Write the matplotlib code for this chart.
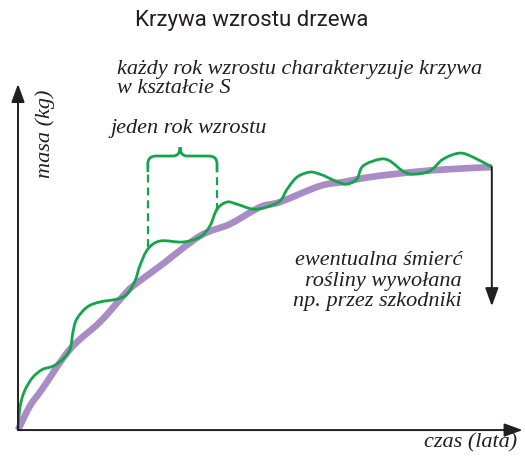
import matplotlib
matplotlib.use("Agg")
import matplotlib.pyplot as plt
from matplotlib.path import Path
from matplotlib.patches import PathPatch

# growth curve (time in years, mass in arbitrary units)
trend_t = [0.0, 0.25, 0.51, 1.10, 1.73, 2.22, 2.43, 3.00, 3.84, 4.47,
           5.11, 5.53, 6.37, 6.86, 7.43, 8.33, 9.11, 10.0]
trend_m = [0.0, 0.91, 1.56, 3.08, 4.11, 5.10, 5.48, 6.24, 7.38, 7.83,
           8.48, 8.67, 9.28, 9.43, 9.62, 9.81, 9.92, 10.0]

# yearly growth (wavy line)
year_t = [0.0, 0.04, 0.13, 0.30, 0.51, 0.74, 0.95, 1.10, 1.16, 1.24, 1.46, 1.73,
          2.09, 2.30, 2.47, 2.57, 2.74, 3.00, 3.48, 3.84, 4.05, 4.20, 4.41,
          4.62, 4.96, 5.25, 5.53, 5.68, 5.89, 6.16, 6.37, 6.52, 6.75, 6.94,
          7.15, 7.28, 7.64, 7.85, 8.12, 8.33, 8.69, 8.97, 9.32, 9.60, 10.0]
year_m = [0.0, 0.85, 1.45, 1.98, 2.30, 2.43, 2.70, 3.08, 3.73, 4.22, 4.68, 4.87,
          4.98, 5.17, 5.67, 6.24, 6.88, 7.19, 7.15, 7.34, 7.76, 8.40, 8.67,
          8.59, 8.40, 8.48, 8.71, 9.16, 9.62, 9.81, 9.73, 9.62, 9.43, 9.35,
          9.54, 10.04, 10.30, 10.23, 9.85, 9.73, 9.85, 10.30, 10.53, 10.38, 10.0]

GREEN = "#13a54a"
PURPLE = "#a98bc6"
INK = "#231f20"
SERIF = ["Liberation Serif", "DejaVu Serif"]


def smooth_path(xs, ys):
    # Catmull-Rom through the points, handed to matplotlib as cubic Bezier segments
    pts = list(zip(xs, ys))
    verts, codes = [pts[0]], [Path.MOVETO]
    for i in range(len(pts) - 1):
        p0 = pts[max(i - 1, 0)]
        p1, p2 = pts[i], pts[i + 1]
        p3 = pts[min(i + 2, len(pts) - 1)]
        c1 = (p1[0] + (p2[0] - p0[0]) / 6, p1[1] + (p2[1] - p0[1]) / 6)
        c2 = (p2[0] - (p3[0] - p1[0]) / 6, p2[1] - (p3[1] - p1[1]) / 6)
        verts += [c1, c2, p2]
        codes += [Path.CURVE4] * 3
    return Path(verts, codes)


fig = plt.figure(figsize=(5.25, 4.6), dpi=100)
ax = fig.add_axes([0, 0, 1, 1])
ax.set_xlim(-0.38, 10.70)
ax.set_ylim(-1.10, 16.39)
ax.axis("off")

ax.add_patch(PathPatch(smooth_path(trend_t, trend_m), fill=False,
                       edgecolor=PURPLE, lw=4.8, capstyle="butt", zorder=2))
ax.add_patch(PathPatch(smooth_path(year_t, year_m), fill=False,
                       edgecolor=GREEN, lw=2.0, joinstyle="round", zorder=3))

# axes with arrows
arrow = dict(arrowstyle="-|>,head_length=0.55,head_width=0.2", color=INK,
             lw=1.4, mutation_scale=20, shrinkA=0, shrinkB=0)
ax.annotate("", xy=(0, 13.16), xytext=(0, 0), arrowprops=arrow)
ax.annotate("", xy=(10.65, 0), xytext=(0, 0), arrowprops=arrow)
ax.annotate("", xy=(10.0, 4.71), xytext=(10.0, 10.0), arrowprops=arrow)

# bracket marking one year of growth
x_left, x_right, x_tip = 2.74, 4.20, 3.42
m_top, m_tip, m_solid = 10.42, 10.76, 9.81
ax.plot([x_left, x_left], [6.95, m_solid], color=GREEN, lw=1.6,
        linestyle=(0, (3.6, 2.2)))
ax.plot([x_right, x_right], [8.33, m_solid], color=GREEN, lw=1.6,
        linestyle=(0, (3.6, 2.2)))
verts = [(x_left, m_solid), (x_left, m_top - 0.30), (x_left, m_top), (x_left + 0.17, m_top),
         (x_tip - 0.15, m_top), (x_tip, m_top), (x_tip, m_tip),
         (x_tip, m_top), (x_tip + 0.15, m_top),
         (x_right - 0.17, m_top), (x_right, m_top), (x_right, m_top - 0.30), (x_right, m_solid)]
codes = [Path.MOVETO, Path.LINETO, Path.CURVE3, Path.CURVE3,
         Path.LINETO, Path.CURVE3, Path.CURVE3,
         Path.CURVE3, Path.CURVE3,
         Path.LINETO, Path.CURVE3, Path.CURVE3, Path.LINETO]
ax.add_patch(PathPatch(Path(verts, codes), fill=False, edgecolor=GREEN, lw=2.0))

# texts
ax.text(4.93, 16.39 - 20 / 26.3, "Krzywa wzrostu drzewa", ha="center", va="center",
        fontsize=16, color=INK, family=["Roboto", "DejaVu Sans"])
ax.text(2.09, 13.38, "każdy rok wzrostu charakteryzuje krzywa\nw kształcie S",
        ha="left", va="center", fontsize=16, style="italic", family=SERIF,
        color=INK, linespacing=1.0)
ax.text(1.94, 11.50, "jeden rok wzrostu", ha="left", va="center", fontsize=16,
        style="italic", family=SERIF, color=INK)
ax.text(0.57, 11.3, "masa (kg)", ha="center", va="center", rotation=90,
        fontsize=16, style="italic", family=SERIF, color=INK)
ax.text(9.37, 5.70, "ewentualna śmierć\nrośliny wywołana\nnp. przez szkodniki",
        ha="right", va="center", fontsize=16, style="italic", family=SERIF,
        color=INK, linespacing=1.1)
ax.text(10.53, -0.46, "czas (lata)", ha="right", va="center", fontsize=16,
        style="italic", family=SERIF, color=INK)

fig.savefig("out.png", dpi=100)
